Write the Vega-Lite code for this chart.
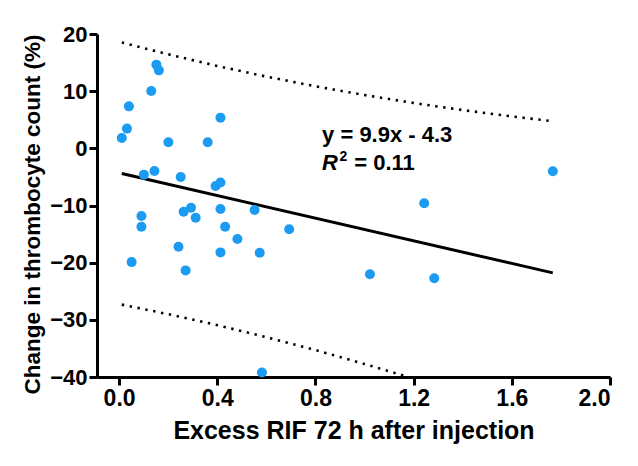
{
  "$schema": "https://vega.github.io/schema/vega-lite/v6.json",
  "width": 513,
  "height": 343,
  "autosize": {"type": "none"},
  "padding": {"left": 97, "top": 34, "right": 28, "bottom": 89},
  "background": "white",
  "config": {
    "view": {"stroke": null},
    "font": "Liberation Sans",
    "axis": {
      "grid": false,
      "domainColor": "black",
      "domainWidth": 3,
      "tickColor": "black",
      "tickWidth": 3,
      "tickSize": 8,
      "labelFont": "Liberation Sans",
      "labelFontWeight": "bold",
      "labelColor": "black",
      "titleFont": "Liberation Sans",
      "titleFontWeight": "bold",
      "titleColor": "black"
    }
  },
  "datasets": {
    "pts": [
      {"x": 0.152, "y": 14.64}, {"x": 0.162, "y": 13.64}, {"x": 0.131, "y": 10.02},
      {"x": 0.040, "y": 7.34}, {"x": 0.413, "y": 5.37}, {"x": 0.032, "y": 3.45},
      {"x": 0.011, "y": 1.80}, {"x": 0.201, "y": 1.05}, {"x": 0.361, "y": 1.05},
      {"x": 0.101, "y": -4.60}, {"x": 0.144, "y": -3.97}, {"x": 0.251, "y": -5.02},
      {"x": 0.393, "y": -6.60}, {"x": 0.413, "y": -5.99}, {"x": 0.091, "y": -11.84},
      {"x": 0.091, "y": -13.71}, {"x": 0.263, "y": -11.08}, {"x": 0.293, "y": -10.38},
      {"x": 0.312, "y": -12.13}, {"x": 0.413, "y": -10.61}, {"x": 0.552, "y": -10.79},
      {"x": 0.432, "y": -13.71}, {"x": 0.693, "y": -14.17}, {"x": 0.482, "y": -15.87},
      {"x": 0.242, "y": -17.22}, {"x": 0.413, "y": -18.20}, {"x": 0.573, "y": -18.27},
      {"x": 0.051, "y": -19.90}, {"x": 0.271, "y": -21.35}, {"x": 0.582, "y": -39.2},
      {"x": 1.767, "y": -4.01}, {"x": 1.243, "y": -9.61}, {"x": 1.022, "y": -22.03},
      {"x": 1.284, "y": -22.73}
    ],
    "fit": [{"x": 0.011, "y": -4.41}, {"x": 1.767, "y": -21.79}],
    "upper": [
      {"x": 0.011, "y": 18.52}, {"x": 0.2, "y": 16.45}, {"x": 0.4, "y": 14.41},
      {"x": 0.6, "y": 12.55}, {"x": 0.8, "y": 10.85}, {"x": 1.0, "y": 9.32},
      {"x": 1.2, "y": 7.93}, {"x": 1.4, "y": 6.69}, {"x": 1.6, "y": 5.58},
      {"x": 1.767, "y": 4.75}
    ],
    "lower": [
      {"x": 0.011, "y": -27.34}, {"x": 0.2, "y": -29.01}, {"x": 0.4, "y": -30.93},
      {"x": 0.6, "y": -33.03}, {"x": 0.8, "y": -35.29}, {"x": 1.0, "y": -37.72},
      {"x": 1.1, "y": -38.99}, {"x": 1.2, "y": -40.29}
    ],
    "eq": [
      {"x": 0.827, "y": 1.05, "label": "y = 9.9x - 4.3"},
      {"x": 0.958, "y": -3.8, "label": "= 0.11"}
    ],
    "rr": [{"x": 0.827, "y": -3.8, "label": "R"}],
    "sup": [{"x": 0.898, "y": -2.2, "label": "2"}]
  },
  "encoding": {
    "x": {
      "field": "x", "type": "quantitative",
      "scale": {"domain": [-0.09, 2.0], "nice": false, "zero": false},
      "axis": {
        "values": [0, 0.4, 0.8, 1.2, 1.6, 2.0],
        "format": ".1f",
        "labelFontSize": 23,
        "labelPadding": 2,
        "title": "Excess RIF 72 h after injection",
        "titleFontSize": 25,
        "titlePadding": 8
      }
    },
    "y": {
      "field": "y", "type": "quantitative",
      "scale": {"domain": [-40, 20], "nice": false, "zero": false},
      "axis": {
        "values": [-40, -30, -20, -10, 0, 10, 20],
        "labelFontSize": 22,
        "labelPadding": 2,
        "title": "Change in thrombocyte count (%)",
        "titleFontSize": 22.5,
        "titlePadding": 5,
        "titleY": 180
      }
    }
  },
  "layer": [
    {
      "data": {"name": "upper"},
      "mark": {"type": "line", "color": "black", "strokeWidth": 2.6, "strokeDash": [2.4, 5.6], "clip": true},
      "encoding": {}
    },
    {
      "data": {"name": "lower"},
      "mark": {"type": "line", "color": "black", "strokeWidth": 2.6, "strokeDash": [2.4, 5.6], "clip": true},
      "encoding": {}
    },
    {
      "data": {"name": "fit"},
      "mark": {"type": "line", "color": "black", "strokeWidth": 3},
      "encoding": {}
    },
    {
      "data": {"name": "pts"},
      "mark": {"type": "circle", "color": "#1b9cf2", "opacity": 1, "size": 100, "clip": false}
    },
    {
      "data": {"name": "eq"},
      "mark": {"type": "text", "align": "left", "baseline": "alphabetic", "fontSize": 22, "fontWeight": "bold", "color": "black"},
      "encoding": {"text": {"field": "label"}}
    },
    {
      "data": {"name": "rr"},
      "mark": {"type": "text", "align": "left", "baseline": "alphabetic", "fontSize": 22, "fontWeight": "bold", "fontStyle": "italic", "color": "black"},
      "encoding": {"text": {"field": "label"}}
    },
    {
      "data": {"name": "sup"},
      "mark": {"type": "text", "align": "left", "baseline": "alphabetic", "fontSize": 14, "fontWeight": "bold", "color": "black"},
      "encoding": {"text": {"field": "label"}}
    }
  ]
}
